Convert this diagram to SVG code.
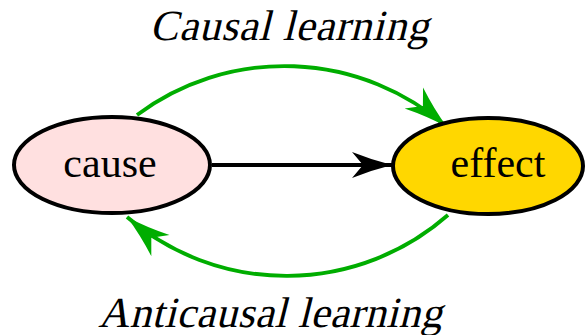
<svg xmlns="http://www.w3.org/2000/svg" width="586" height="335" viewBox="0 0 586 335">
<style>
.node{stroke:#000;stroke-width:4}
.lbl{font-family:"Liberation Serif","Times New Roman",serif;font-size:42px;fill:#000;text-anchor:middle}
.it{font-size:43px}
.edge{fill:none;stroke-width:3.8}
</style>
<defs>
<marker id="ab" viewBox="-42 -16 44 32" markerWidth="44" markerHeight="32" refX="0" refY="0" orient="auto" markerUnits="userSpaceOnUse">
<path d="M0,0 Q-20,-5 -40,-13 L-29,0 L-40,13 Q-20,5 0,0 Z" fill="#000"/>
</marker>
<marker id="ag" viewBox="-46 -17 48 34" markerWidth="48" markerHeight="34" refX="0" refY="0" orient="auto" markerUnits="userSpaceOnUse">
<path d="M0,0 Q-22,-5 -44,-14 L-32,0 L-44,14 Q-22,5 0,0 Z" fill="#00AD00"/>
</marker>
</defs>
<g id="connectors">
<path class="edge" d="M212,165 L392,165" stroke="#000" marker-end="url(#ab)"/>
<path class="edge" d="M137,115 A247,247 0 0 1 447,127" stroke="#00AD00" marker-end="url(#ag)"/>
<path class="edge" d="M448,215 A245,245 0 0 1 127,217" stroke="#00AD00" marker-end="url(#ag)"/>
</g>
<g id="cause">
<ellipse class="node" cx="112" cy="165" rx="98" ry="48" fill="#FFE0E0"/>
<text class="lbl" x="110" y="177">cause</text>
</g>
<g id="effect">
<ellipse class="node" cx="488" cy="166" rx="95" ry="48" fill="#FFD700"/>
<text class="lbl" x="498" y="177">effect</text>
</g>
<text class="lbl it" transform="translate(289,40) skewX(-14)" x="0" y="0" textLength="279" lengthAdjust="spacing">Causal learning</text>
<text class="lbl it" transform="translate(270,327) skewX(-14)" x="0" y="0" textLength="344" lengthAdjust="spacing">Anticausal learning</text>
</svg>
